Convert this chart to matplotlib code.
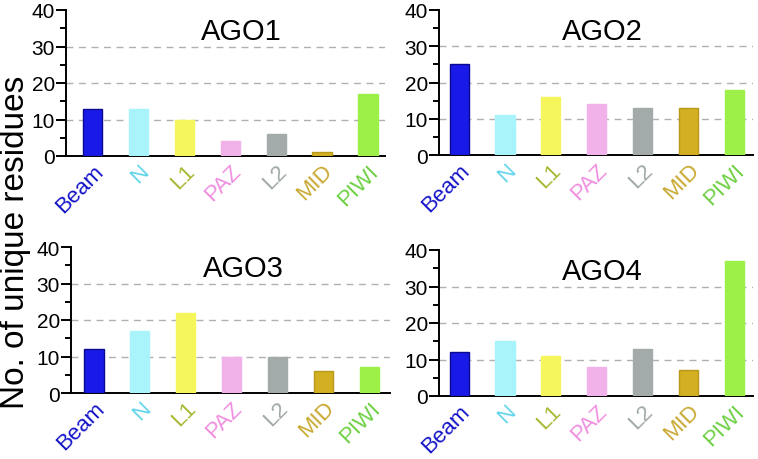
import matplotlib.pyplot as plt
import matplotlib
from matplotlib.ticker import MultipleLocator

matplotlib.rcParams['font.family'] = ['Liberation Sans', 'DejaVu Sans']

# data
domains = ['Beam', 'N', 'L1', 'PAZ', 'L2', 'MID', 'PIWI']
ago1 = [13, 13, 10, 4, 6, 1, 17]
ago2 = [25, 11, 16, 14, 13, 13, 18]
ago3 = [12, 17, 22, 10, 10, 6, 7]
ago4 = [12, 15, 11, 8, 13, 7, 37]
titles = ['AGO1', 'AGO2', 'AGO3', 'AGO4']

bar_colors = ['#1a1ae8', '#a8f4fa', '#f5f55c', '#f0b2e8', '#a2aaaa', '#d2b022', '#9cf048']
edge_colors = ['#0a0a90', '#a8f4fa', '#f5f55c', '#f0b2e8', '#a2aaaa', '#b89818', '#9cf048']
label_colors = ['#1414c8', '#5ed4ea', '#a8b832', '#f08ee0', '#a0a8a8', '#c8a830', '#6ed044']

fig = plt.figure(figsize=(7.58, 4.60), dpi=100)

# axes rects (left, bottom, width, height) and x limits per panel
rects = [
    (66 / 758, 1 - 157 / 460, 319 / 758, 146 / 460),
    (439 / 758, 1 - 156 / 460, 314 / 758, 145 / 460),
    (71 / 758, 1 - 394 / 460, 319 / 758, 146 / 460),
    (439 / 758, 1 - 397 / 460, 314 / 758, 146 / 460),
]
xlims = [(-0.58, 6.37), (-0.44, 6.41), (-0.50, 6.45), (-0.44, 6.41)]
title_x = [0.55, 0.52, 0.54, 0.52]

for data, title, rect, xl, tx in zip([ago1, ago2, ago3, ago4], titles, rects, xlims, title_x):
    ax = fig.add_axes(rect)
    x = range(len(domains))
    ax.bar(x, data, width=0.42, color=bar_colors, edgecolor=edge_colors,
           linewidth=1.0, zorder=3)
    ax.set_ylim(0, 40)
    ax.set_xlim(*xl)
    ax.yaxis.set_major_locator(MultipleLocator(10))
    ax.yaxis.set_minor_locator(MultipleLocator(5))
    for yv in [10, 20, 30]:
        ax.axhline(yv, color='#b0b0b0', linestyle=(0, (5, 4)), linewidth=1.0, zorder=1)
    ax.spines['top'].set_visible(False)
    ax.spines['right'].set_visible(False)
    ax.spines['left'].set_linewidth(1.4)
    ax.spines['bottom'].set_linewidth(1.4)
    ax.tick_params(axis='y', which='major', length=7, width=1.4, labelsize=15, pad=1)
    ax.tick_params(axis='y', which='minor', length=4, width=1.4)
    ax.tick_params(axis='x', length=0, pad=3)
    ax.set_xticks(list(x))
    ax.set_xticklabels(domains, rotation=45, ha='right', rotation_mode='anchor',
                       fontsize=16)
    for lbl, c in zip(ax.get_xticklabels(), label_colors):
        lbl.set_color(c)
    ax.text(tx, 0.855, title, transform=ax.transAxes, ha='center', va='center',
            fontsize=21)

fig.text(0.021, 0.473, 'No. of unique residues', rotation=90, ha='center',
         va='center', fontsize=24)

fig.savefig('out.png', dpi=100)
